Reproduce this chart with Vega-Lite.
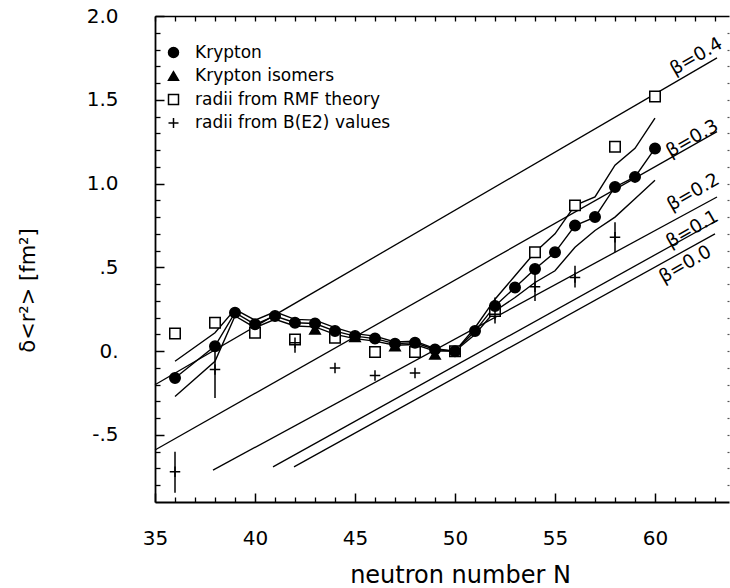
{
  "$schema": "https://vega.github.io/schema/vega-lite/v6.json",
  "width": 574,
  "height": 486,
  "autosize": "none",
  "padding": {"left": 155, "top": 16, "right": 1, "bottom": 86},
  "background": "white",
  "config": {
    "view": {"stroke": null},
    "font": "DejaVu Sans",
    "axis": {"grid": false, "domainColor": "black", "tickColor": "black", "labelColor": "black", "titleColor": "black", "labelFont": "DejaVu Sans", "titleFont": "DejaVu Sans", "titleFontWeight": "normal"}
  },
  "datasets": {
    "beta": [
      {"beta": "0.4", "N": 35, "r2": -0.20}, {"beta": "0.4", "N": 63.1, "r2": 1.75},
      {"beta": "0.3", "N": 35, "r2": -0.59}, {"beta": "0.3", "N": 63.1, "r2": 1.31},
      {"beta": "0.2", "N": 37.9, "r2": -0.71}, {"beta": "0.2", "N": 63.1, "r2": 0.92},
      {"beta": "0.1", "N": 40.9, "r2": -0.69}, {"beta": "0.1", "N": 63.1, "r2": 0.78},
      {"beta": "0.0", "N": 41.95, "r2": -0.69}, {"beta": "0.0", "N": 63.0, "r2": 0.70}
    ],
    "betaLabels": [
      {"label": "β=0.4", "N": 62.05, "r2": 1.76},
      {"label": "β=0.3", "N": 61.85, "r2": 1.27},
      {"label": "β=0.2", "N": 61.9, "r2": 0.95},
      {"label": "β=0.1", "N": 61.85, "r2": 0.73},
      {"label": "β=0.0", "N": 61.5, "r2": 0.52}
    ],
    "band": [
      {"N": 36, "upper": -0.06, "lower": -0.27},
      {"N": 38, "upper": 0.11, "lower": -0.06},
      {"N": 39, "upper": 0.25, "lower": 0.21},
      {"N": 40, "upper": 0.185, "lower": 0.14},
      {"N": 41, "upper": 0.235, "lower": 0.19},
      {"N": 42, "upper": 0.19, "lower": 0.15},
      {"N": 43, "upper": 0.185, "lower": 0.145},
      {"N": 44, "upper": 0.14, "lower": 0.10},
      {"N": 45, "upper": 0.105, "lower": 0.075},
      {"N": 46, "upper": 0.09, "lower": 0.06},
      {"N": 47, "upper": 0.055, "lower": 0.035},
      {"N": 48, "upper": 0.06, "lower": 0.04},
      {"N": 49, "upper": 0.015, "lower": 0.0},
      {"N": 50, "upper": 0.0, "lower": 0.0},
      {"N": 51, "upper": 0.14, "lower": 0.10},
      {"N": 52, "upper": 0.31, "lower": 0.24},
      {"N": 53, "upper": 0.45, "lower": 0.32},
      {"N": 54, "upper": 0.59, "lower": 0.41},
      {"N": 55, "upper": 0.70, "lower": 0.48},
      {"N": 56, "upper": 0.87, "lower": 0.62},
      {"N": 57, "upper": 0.92, "lower": 0.72},
      {"N": 58, "upper": 1.11, "lower": 0.80},
      {"N": 59, "upper": 1.21, "lower": 0.91},
      {"N": 60, "upper": 1.39, "lower": 1.02}
    ],
    "pts": [
      {"series": "radii from RMF theory", "N": 36, "r2": 0.105},
      {"series": "radii from RMF theory", "N": 38, "r2": 0.17},
      {"series": "radii from RMF theory", "N": 40, "r2": 0.11},
      {"series": "radii from RMF theory", "N": 42, "r2": 0.07},
      {"series": "radii from RMF theory", "N": 44, "r2": 0.08},
      {"series": "radii from RMF theory", "N": 46, "r2": -0.005},
      {"series": "radii from RMF theory", "N": 48, "r2": -0.005},
      {"series": "radii from RMF theory", "N": 50, "r2": 0.0},
      {"series": "radii from RMF theory", "N": 52, "r2": 0.24},
      {"series": "radii from RMF theory", "N": 54, "r2": 0.59},
      {"series": "radii from RMF theory", "N": 56, "r2": 0.87},
      {"series": "radii from RMF theory", "N": 58, "r2": 1.22},
      {"series": "radii from RMF theory", "N": 60, "r2": 1.52},
      {"series": "radii from B(E2) values", "N": 36, "r2": -0.72, "lo": -0.845, "hi": -0.60},
      {"series": "radii from B(E2) values", "N": 38, "r2": -0.11, "lo": -0.28, "hi": 0.05},
      {"series": "radii from B(E2) values", "N": 42, "r2": 0.05, "lo": -0.01, "hi": 0.10},
      {"series": "radii from B(E2) values", "N": 44, "r2": -0.10},
      {"series": "radii from B(E2) values", "N": 46, "r2": -0.145},
      {"series": "radii from B(E2) values", "N": 48, "r2": -0.13},
      {"series": "radii from B(E2) values", "N": 52, "r2": 0.22, "lo": 0.165, "hi": 0.32},
      {"series": "radii from B(E2) values", "N": 54, "r2": 0.385, "lo": 0.30, "hi": 0.50},
      {"series": "radii from B(E2) values", "N": 56, "r2": 0.44, "lo": 0.38, "hi": 0.51},
      {"series": "radii from B(E2) values", "N": 58, "r2": 0.68, "lo": 0.59, "hi": 0.77},
      {"series": "Krypton isomers", "N": 43, "r2": 0.13},
      {"series": "Krypton isomers", "N": 45, "r2": 0.085},
      {"series": "Krypton isomers", "N": 47, "r2": 0.03},
      {"series": "Krypton isomers", "N": 49, "r2": -0.02},
      {"series": "Krypton", "N": 36, "r2": -0.16},
      {"series": "Krypton", "N": 38, "r2": 0.03},
      {"series": "Krypton", "N": 39, "r2": 0.23},
      {"series": "Krypton", "N": 40, "r2": 0.16},
      {"series": "Krypton", "N": 41, "r2": 0.21},
      {"series": "Krypton", "N": 42, "r2": 0.17},
      {"series": "Krypton", "N": 43, "r2": 0.165},
      {"series": "Krypton", "N": 44, "r2": 0.12},
      {"series": "Krypton", "N": 45, "r2": 0.09},
      {"series": "Krypton", "N": 46, "r2": 0.075},
      {"series": "Krypton", "N": 47, "r2": 0.045},
      {"series": "Krypton", "N": 48, "r2": 0.05},
      {"series": "Krypton", "N": 49, "r2": 0.01},
      {"series": "Krypton", "N": 50, "r2": 0.0},
      {"series": "Krypton", "N": 51, "r2": 0.12},
      {"series": "Krypton", "N": 52, "r2": 0.27},
      {"series": "Krypton", "N": 53, "r2": 0.38},
      {"series": "Krypton", "N": 54, "r2": 0.49},
      {"series": "Krypton", "N": 55, "r2": 0.59},
      {"series": "Krypton", "N": 56, "r2": 0.75},
      {"series": "Krypton", "N": 57, "r2": 0.80},
      {"series": "Krypton", "N": 58, "r2": 0.98},
      {"series": "Krypton", "N": 59, "r2": 1.04},
      {"series": "Krypton", "N": 60, "r2": 1.21}
    ]
  },
  "layer": [
    {
      "data": {"name": "beta"},
      "mark": {"type": "line", "color": "black", "strokeWidth": 1.3},
      "encoding": {
        "x": {"field": "N", "type": "quantitative", "scale": {"domain": [35, 63.7], "nice": false, "zero": false},
          "axis": {"orient": "bottom", "values": [35, 40, 45, 50, 55, 60], "tickSize": -9, "tickWidth": 1.5, "domainWidth": 1.8, "labelFontSize": 20, "labelPadding": 35, "labelFlush": false,
            "title": "neutron number N", "titleFontSize": 24, "titleX": 305, "titleY": 80, "titleAlign": "center", "titleBaseline": "alphabetic"}},
        "y": {"field": "r2", "type": "quantitative", "scale": {"domain": [-0.9, 2.0], "nice": false, "zero": false},
          "axis": {"orient": "left", "values": [-0.5, 0, 0.5, 1, 1.5, 2], "tickSize": -9, "tickWidth": 1.5, "domainWidth": 1.8, "labelFontSize": 20, "labelPadding": 46, "labelFlush": false,
            "labelExpr": "datum.value == 0 ? '0.' : datum.value == 0.5 ? '.5' : datum.value == -0.5 ? '-.5' : format(datum.value, '.1f')",
            "title": "δ<r²> [fm²]", "titleFontSize": 21, "titleX": -127, "titleY": 274, "titleAngle": -90, "titleAlign": "center", "titleBaseline": "middle"}},
        "detail": {"field": "beta"}
      }
    },
    {
      "data": {"name": "band"},
      "mark": {"type": "line", "color": "black", "strokeWidth": 1.4},
      "encoding": {
        "x": {"field": "N", "type": "quantitative", "scale": {"domain": [35, 63.7], "nice": false, "zero": false},
          "axis": {"orient": "bottom", "values": [36, 37, 38, 39, 41, 42, 43, 44, 46, 47, 48, 49, 51, 52, 53, 54, 56, 57, 58, 59, 61, 62, 63], "tickSize": -5, "tickWidth": 1.3, "labels": false, "domain": false, "title": null}},
        "y": {"field": "upper", "type": "quantitative", "scale": {"domain": [-0.9, 2.0], "nice": false, "zero": false},
          "axis": {"orient": "left", "values": [-0.8, -0.7, -0.6, -0.4, -0.3, -0.2, -0.1, 0.1, 0.2, 0.3, 0.4, 0.6, 0.7, 0.8, 0.9, 1.1, 1.2, 1.3, 1.4, 1.6, 1.7, 1.8, 1.9], "tickSize": -5, "tickWidth": 1.3, "labels": false, "domain": false, "title": null}}
      }
    },
    {
      "data": {"name": "band"},
      "mark": {"type": "line", "color": "black", "strokeWidth": 1.4},
      "encoding": {
        "x": {"field": "N", "type": "quantitative", "scale": {"domain": [35, 63.7], "nice": false, "zero": false},
          "axis": {"orient": "top", "values": [35, 36, 37, 38, 39, 40, 41, 42, 43, 44, 45, 46, 47, 48, 49, 50, 51, 52, 53, 54, 55, 56, 57, 58, 59, 60, 61, 62, 63], "tickSize": -5, "tickWidth": 1.3, "domainWidth": 1.5, "labels": false, "title": null}},
        "y": {"field": "lower", "type": "quantitative", "scale": {"domain": [-0.9, 2.0], "nice": false, "zero": false},
          "axis": {"orient": "right", "values": [-0.8, -0.7, -0.6, -0.5, -0.4, -0.3, -0.2, -0.1, 0, 0.1, 0.2, 0.3, 0.4, 0.5, 0.6, 0.7, 0.8, 0.9, 1, 1.1, 1.2, 1.3, 1.4, 1.5, 1.6, 1.7, 1.8, 1.9], "tickSize": -2, "tickWidth": 1.2, "tickColor": "#555", "labels": false, "domain": false, "title": null}}
      }
    },
    {
      "data": {"name": "pts"},
      "transform": [{"filter": "datum.series == 'Krypton'"}],
      "mark": {"type": "line", "color": "black", "strokeWidth": 1.4},
      "encoding": {
        "x": {"field": "N", "type": "quantitative", "scale": {"domain": [35, 63.7], "nice": false, "zero": false}, "axis": null},
        "y": {"field": "r2", "type": "quantitative", "scale": {"domain": [-0.9, 2.0], "nice": false, "zero": false}, "axis": null}
      }
    },
    {
      "data": {"name": "pts"},
      "transform": [{"filter": "datum.lo != null"}],
      "mark": {"type": "rule", "color": "black", "strokeWidth": 1.5},
      "encoding": {
        "x": {"field": "N", "type": "quantitative", "scale": {"domain": [35, 63.7], "nice": false, "zero": false}, "axis": null},
        "y": {"field": "lo", "type": "quantitative", "scale": {"domain": [-0.9, 2.0], "nice": false, "zero": false}, "axis": null},
        "y2": {"field": "hi"}
      }
    },
    {
      "data": {"name": "pts"},
      "mark": {"type": "point", "strokeWidth": 1.5, "size": 110, "opacity": 1},
      "encoding": {
        "x": {"field": "N", "type": "quantitative", "scale": {"domain": [35, 63.7], "nice": false, "zero": false}, "axis": null},
        "y": {"field": "r2", "type": "quantitative", "scale": {"domain": [-0.9, 2.0], "nice": false, "zero": false}, "axis": null},
        "shape": {"field": "series", "type": "nominal",
          "scale": {"domain": ["Krypton", "Krypton isomers", "radii from RMF theory", "radii from B(E2) values"], "range": ["circle", "triangle-up", "square", "M-1,0H1M0,-1V1"]},
          "legend": {"orient": "none", "legendX": 10, "legendY": 28, "title": null, "padding": 0, "labelFontSize": 17, "labelFont": "DejaVu Sans", "labelColor": "black", "labelLimit": 0, "symbolSize": 100, "rowPadding": 5.5, "labelOffset": 13, "symbolStrokeWidth": 1.5}},
        "fill": {"field": "series", "type": "nominal",
          "scale": {"domain": ["Krypton", "Krypton isomers", "radii from RMF theory", "radii from B(E2) values"], "range": ["black", "black", "white", "transparent"]},
          "legend": {"orient": "none", "legendX": 10, "legendY": 28, "title": null, "padding": 0, "labelFontSize": 17, "labelFont": "DejaVu Sans", "labelColor": "black", "labelLimit": 0, "symbolSize": 100, "rowPadding": 5.5, "labelOffset": 13, "symbolStrokeWidth": 1.5}},
        "stroke": {"field": "series", "type": "nominal",
          "scale": {"domain": ["Krypton", "Krypton isomers", "radii from RMF theory", "radii from B(E2) values"], "range": ["black", "black", "black", "black"]},
          "legend": {"orient": "none", "legendX": 10, "legendY": 28, "title": null, "padding": 0, "labelFontSize": 17, "labelFont": "DejaVu Sans", "labelColor": "black", "labelLimit": 0, "symbolSize": 100, "rowPadding": 5.5, "labelOffset": 13, "symbolStrokeWidth": 1.5}}
      }
    },
    {
      "data": {"name": "betaLabels"},
      "mark": {"type": "text", "angle": -30, "fontSize": 18.5, "font": "DejaVu Sans", "color": "black", "align": "center", "baseline": "middle"},
      "encoding": {
        "x": {"field": "N", "type": "quantitative", "scale": {"domain": [35, 63.7], "nice": false, "zero": false}, "axis": null},
        "y": {"field": "r2", "type": "quantitative", "scale": {"domain": [-0.9, 2.0], "nice": false, "zero": false}, "axis": null},
        "text": {"field": "label"}
      }
    }
  ],
  "resolve": {"axis": {"x": "independent", "y": "independent"}}
}
